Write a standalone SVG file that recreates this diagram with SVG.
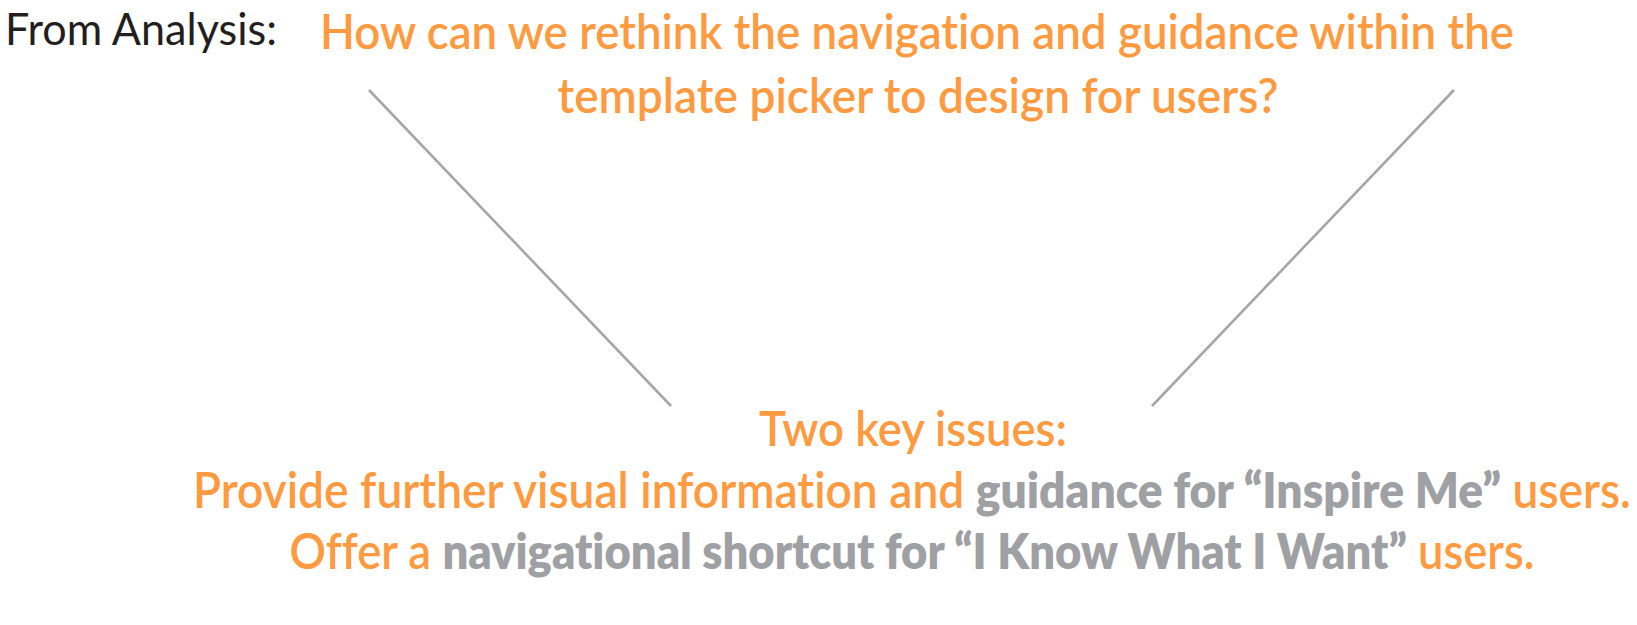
<svg xmlns="http://www.w3.org/2000/svg" width="1637" height="625" viewBox="0 0 1637 625">
<style>
.lbl{font-family:"Lato","Liberation Sans",sans-serif;fill:#231F20;font-size:45px;}
.o{font-family:"Lato","Liberation Sans",sans-serif;fill:#FF9A40;font-size:48px;font-weight:600;font-variant-ligatures:none;}
.b{font-size:49px;}
.g{fill:#9FA0A4;font-family:"Lato","Liberation Sans",sans-serif;font-weight:800;}
.ln{stroke:#A6A6A6;stroke-width:2.6;fill:none;}
</style>
<rect width="1637" height="625" fill="#FFFFFF"/>
<g id="from-analysis">
<text class="lbl" x="5" y="45" textLength="272" lengthAdjust="spacingAndGlyphs">From Analysis:</text>
</g>
<g id="question">
<text class="o" x="917" y="49" text-anchor="middle" textLength="1194" lengthAdjust="spacingAndGlyphs">How can we rethink the navigation and guidance within the</text>
<text class="o" x="918" y="113" text-anchor="middle" textLength="721" lengthAdjust="spacingAndGlyphs">template picker to design for users?</text>
</g>
<g id="connectors">
<line class="ln" x1="369" y1="90" x2="671" y2="406"/>
<line class="ln" x1="1454" y1="90" x2="1152" y2="406"/>
</g>
<g id="issues">
<text class="o" x="913" y="446" text-anchor="middle" textLength="308" lengthAdjust="spacingAndGlyphs">Two key issues:</text>
<text class="o b" x="912" y="508" text-anchor="middle" textLength="1438" lengthAdjust="spacingAndGlyphs">Provide further visual information and <tspan class="g">guidance for “Inspire Me”</tspan> users.</text>
<text class="o b" x="912" y="569" text-anchor="middle" textLength="1245" lengthAdjust="spacingAndGlyphs">Offer a <tspan class="g">navigational shortcut for “I Know What I Want”</tspan> users.</text>
</g>
</svg>
